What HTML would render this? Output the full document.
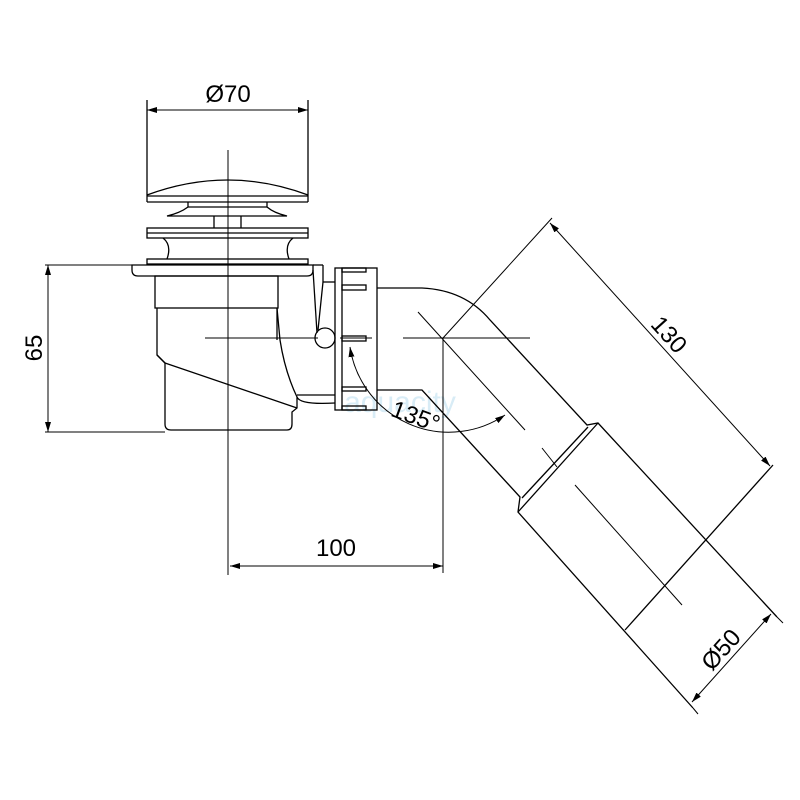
<!DOCTYPE html>
<html><head><style>html,body{margin:0;padding:0;background:#fff}svg{display:block}</style></head>
<body>
<svg width="800" height="800" viewBox="0 0 800 800" xmlns="http://www.w3.org/2000/svg">
<defs>
<marker id="a" viewBox="0 0 10 6" refX="10" refY="3" markerWidth="10" markerHeight="6" orient="auto-start-reverse" markerUnits="userSpaceOnUse"><path d="M0,0 L10,3 L0,6 z" fill="#000"/></marker>
</defs>
<text x="400" y="412" font-family="Liberation Sans, sans-serif" font-size="30" fill="#d8ecf6" text-anchor="middle">aquacity</text>
<g fill="none" stroke="#000" stroke-width="1.3">
<line x1="147" y1="100" x2="147" y2="202"/>
<line x1="308" y1="100" x2="308" y2="202"/>
<path d="M147,195 Q228,165 308,195"/>
<line x1="147" y1="196" x2="308" y2="196"/>
<line x1="147" y1="202" x2="308" y2="202"/>
<path d="M188,202 L188,207 Q180,213 167,216 L287,216 Q274,213 267,207 L267,202"/>
<line x1="188" y1="207" x2="267" y2="207"/>
<line x1="214" y1="216" x2="214" y2="228"/>
<line x1="241" y1="216" x2="241" y2="228"/>
<rect x="147" y="228" width="161" height="10"/>
<line x1="147" y1="233" x2="308" y2="233"/>
<path d="M163,238 Q172,245 167,259"/>
<path d="M293,238 Q284,245 289,259"/>
<rect x="147" y="259" width="161" height="5"/>
<path d="M132,265 L313,265 L313,270 Q313,276 307,276 L138,276 Q132,276 132,270 Z"/>
<rect x="155" y="276" width="123" height="32"/>
<path d="M157,308 L157,355 L165,363 L165,424 Q165,430 171,430 L287,430 Q292,430 292,424 L292,412 L297,408 L297,397 Q285,372 280,340 L277,308"/>
<line x1="277" y1="340" x2="277" y2="308"/>
<line x1="165" y1="363" x2="297" y2="408"/>
<line x1="157" y1="355" x2="165" y2="363"/>
<line x1="313" y1="265" x2="323" y2="265"/>
<line x1="323" y1="265" x2="323" y2="282"/>
<line x1="323" y1="282" x2="335" y2="282"/>
<path d="M313,270 L317,333"/>
<path d="M323,282 L318,330"/>
<circle cx="325" cy="338" r="10"/>
<line x1="297" y1="395" x2="335" y2="395"/>
<path d="M297,397 Q300,405 335,403"/>
<rect x="335" y="268" width="42" height="142"/>
<line x1="342" y1="268" x2="342" y2="410"/>
<rect x="342" y="268" width="24" height="4"/>
<rect x="342" y="285" width="24" height="5"/>
<rect x="342" y="336" width="24" height="5"/>
<rect x="342" y="387" width="24" height="4"/>
<rect x="342" y="406" width="24" height="4"/>
<path d="M377,288 L422,288 Q465,290 490,320 L587,425 L598,423 L777,617"/>
<path d="M377,390 L422,390 L520,497 L518,512 L693,708"/>
<line x1="522" y1="498" x2="588" y2="427"/>
<line x1="518" y1="512" x2="598" y2="423"/>
<line x1="625" y1="630" x2="773" y2="465"/>
</g>
<g fill="none" stroke="#000" stroke-width="1">
<line x1="228" y1="150" x2="228" y2="575"/>
<line x1="205" y1="338" x2="318" y2="338"/>
<line x1="340" y1="338" x2="372" y2="338"/>
<line x1="403" y1="338" x2="530" y2="338"/>
<line x1="443" y1="338" x2="443" y2="573"/>
<line x1="418" y1="312" x2="525" y2="430"/>
<line x1="542" y1="448" x2="557" y2="467"/>
<line x1="575" y1="485" x2="682" y2="605"/>
<line x1="147" y1="110" x2="308" y2="110" marker-start="url(#a)" marker-end="url(#a)"/>
<line x1="45" y1="265" x2="132" y2="265"/>
<line x1="45" y1="432" x2="165" y2="432"/>
<line x1="48" y1="265" x2="48" y2="432" marker-start="url(#a)" marker-end="url(#a)"/>
<line x1="230" y1="566" x2="443" y2="566" marker-start="url(#a)" marker-end="url(#a)"/>
<line x1="443" y1="338" x2="552" y2="218"/>
<line x1="550" y1="223" x2="770" y2="466" marker-start="url(#a)" marker-end="url(#a)"/>
<line x1="777" y1="617" x2="783" y2="623"/>
<line x1="693" y1="708" x2="698" y2="714"/>
<line x1="771" y1="614" x2="692" y2="702" marker-start="url(#a)" marker-end="url(#a)"/>
<path d="M350,347 A100 100 0 0 0 505,415" marker-start="url(#a)" marker-end="url(#a)"/>
</g>
<g font-family="Liberation Sans, sans-serif" font-size="24" fill="#000">
<text x="228" y="102" text-anchor="middle">Ø70</text>
<text transform="translate(42,348) rotate(-90)" text-anchor="middle">65</text>
<text x="336" y="556" text-anchor="middle">100</text>
<text transform="translate(663,340) rotate(48)" text-anchor="middle">130</text>
<text transform="translate(727,655) rotate(-48)" text-anchor="middle">Ø50</text>
<text transform="translate(413,424) rotate(20)" text-anchor="middle">135°</text>
</g>
</svg>
</body></html>
